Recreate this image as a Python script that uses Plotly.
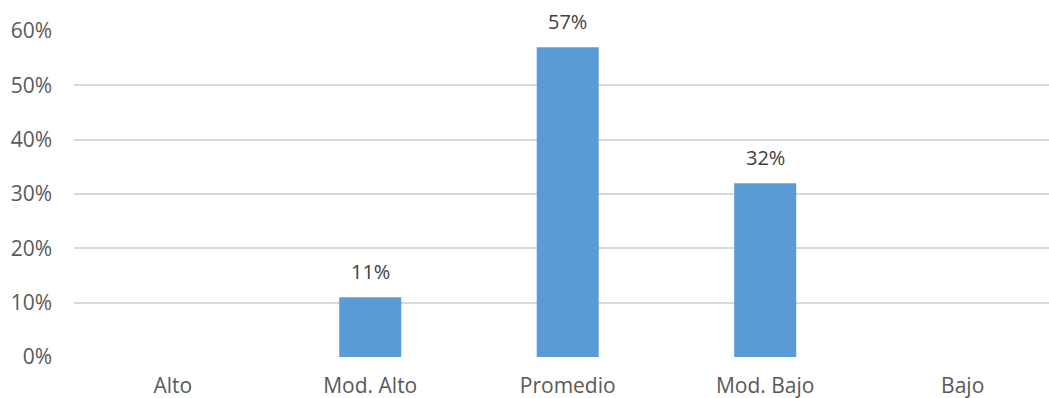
import plotly.graph_objects as go

categories = ["Alto", "Mod. Alto", "Promedio", "Mod. Bajo", "Bajo"]
percentages = [None, 11, 57, 32, None]
y_ticks = [0, 10, 20, 30, 40, 50, 60]
y_tick_labels = [f"{t}%" for t in y_ticks]

BAR_COLOR = "#5B9BD5"
GRID_COLOR = "#D9D9D9"
AXIS_TEXT = "#595959"
LABEL_TEXT = "#404040"
FONT = "Open Sans"

fig = go.Figure(
    go.Bar(
        x=categories,
        y=percentages,
        marker=dict(color=BAR_COLOR, line=dict(width=0)),
        width=0.314,
        hoverinfo="skip",
    )
)

# value labels above each bar
for cat, val in zip(categories, percentages):
    if val is None:
        continue
    fig.add_annotation(
        x=cat, y=val, text=f"{val}%", showarrow=False,
        yanchor="bottom", yshift=10,
        font=dict(family=FONT, size=20, color=LABEL_TEXT),
    )

fig.update_layout(
    width=1049, height=398,
    margin=dict(l=74, r=0, t=31, b=41, autoexpand=False),
    paper_bgcolor="white", plot_bgcolor="white",
    showlegend=False,
    font=dict(family=FONT, size=20, color=AXIS_TEXT),
)
fig.update_xaxes(
    type="category",
    range=[-0.5, 4.437],
    automargin=False,
    showgrid=False, zeroline=False, showline=False,
    ticks="", ticklabelstandoff=14,
    tickfont=dict(family=FONT, size=21, color=AXIS_TEXT),
)
fig.update_yaxes(
    range=[0, 60],
    automargin=False,
    tickvals=y_ticks, ticktext=y_tick_labels,
    showgrid=True, gridcolor=GRID_COLOR, gridwidth=1.5,
    zeroline=False, showline=False,
    ticks="", ticklabelstandoff=21,
    tickfont=dict(family=FONT, size=21, color=AXIS_TEXT),
)

fig.write_html("out.html")
